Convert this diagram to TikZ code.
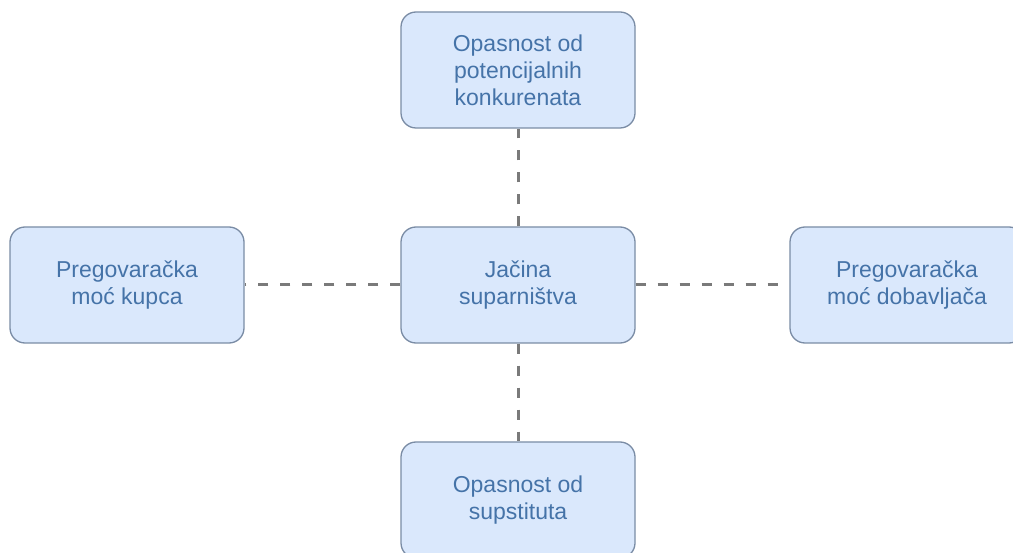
\documentclass[tikz,border=0pt]{standalone}
\usepackage{fontspec}
\setmainfont{Liberation Sans}
\definecolor{boxfill}{HTML}{DAE8FC}
\definecolor{boxline}{HTML}{7A8CA5}
\definecolor{boxtext}{HTML}{4573A8}
\definecolor{linkgray}{HTML}{7A7A7A}
\begin{document}
\begin{tikzpicture}[x=1pt,y=-1pt,
  force/.style={draw=boxline, fill=boxfill, line width=1.3pt, rounded corners=15pt,
    minimum width=234pt, minimum height=116pt, inner sep=0pt, align=center,
    text=boxtext, font=\fontsize{23}{27}\selectfont},
  link/.style={draw=linkgray, line width=3pt, dash pattern=on 10pt off 12pt}]
\useasboundingbox (0,0) rectangle (1013,553);
\clip (0,0) rectangle (1013,553);
\fill[white] (0,0) rectangle (1013,553);
\node[force] (top) at (518,70) {Opasnost od\\potencijalnih\\konkurenata};
\node[force] (mid) at (518,285) {Jačina\\suparništva};
\node[force] (left) at (127,285) {Pregovaračka\\moć kupca};
\node[force] (right) at (907,285) {Pregovaračka\\moć dobavljača};
\node[force] (bot) at (518,500) {Opasnost od\\supstituta};
\draw[link] (mid.north) -- (top.south);
\draw[link] (mid.south) -- (bot.north);
\draw[link] (mid.west) -- (left.east);
\draw[link] (mid.east) -- (right.west);
\end{tikzpicture}
\end{document}
